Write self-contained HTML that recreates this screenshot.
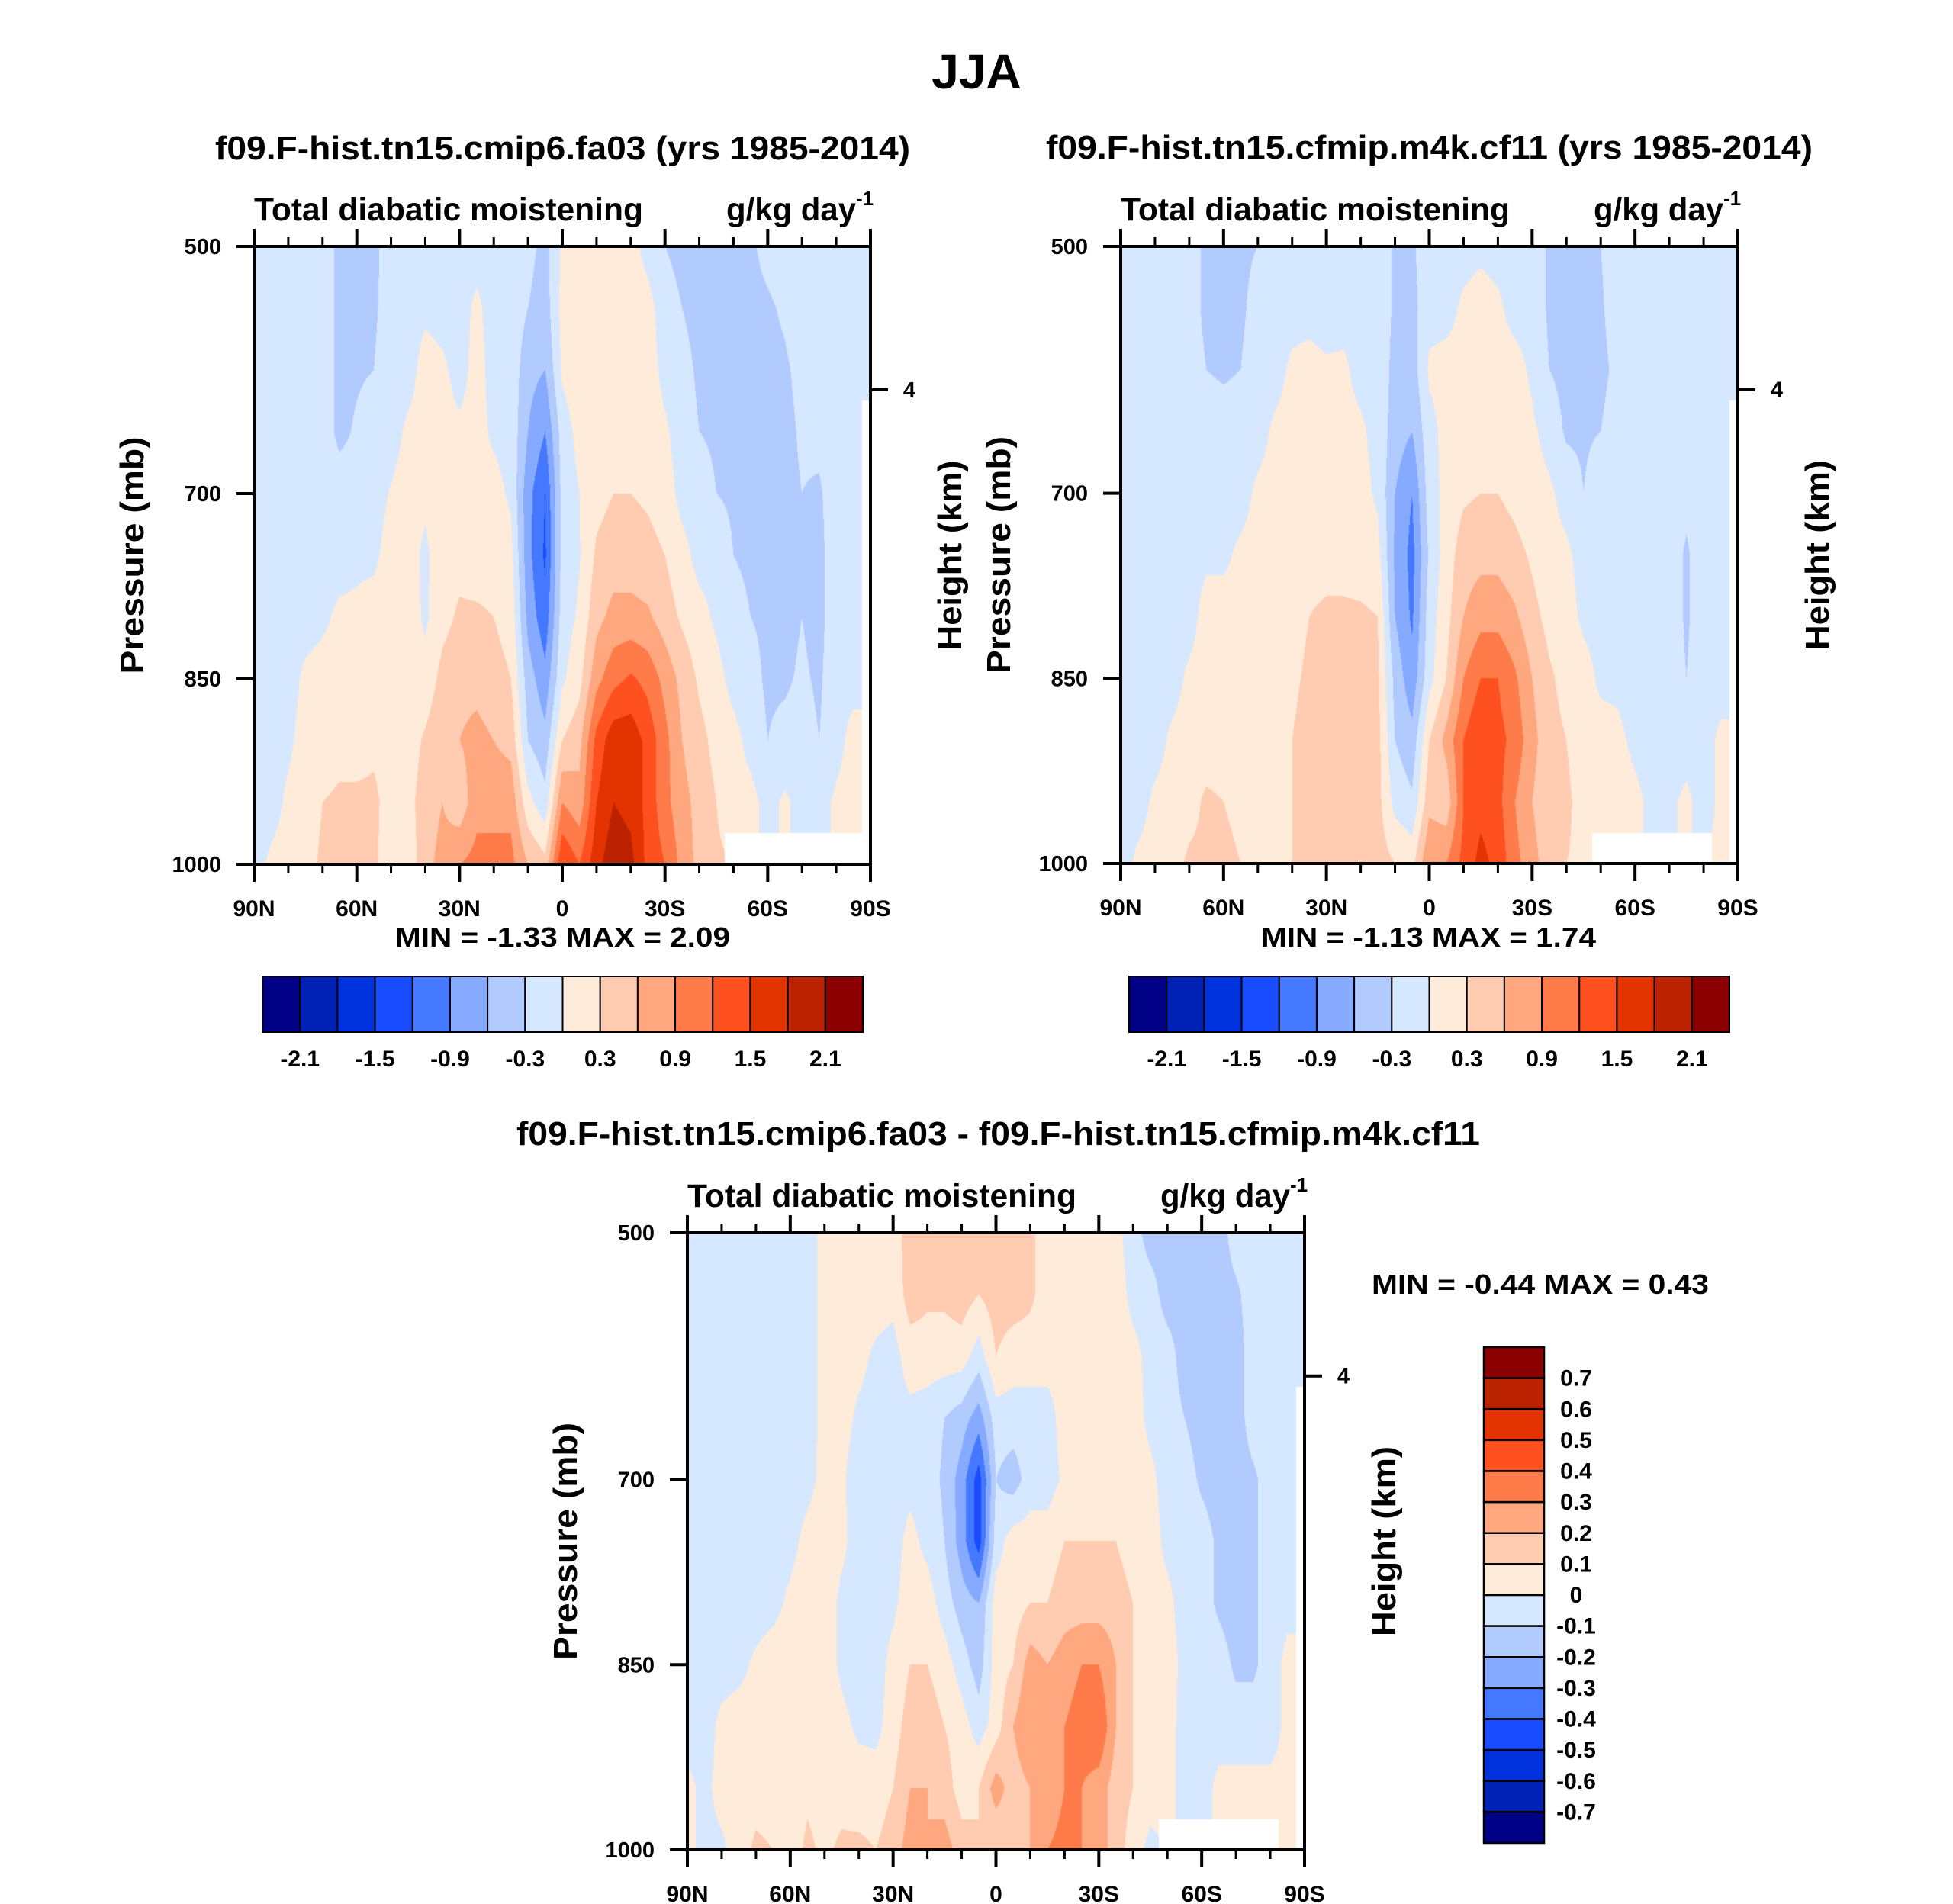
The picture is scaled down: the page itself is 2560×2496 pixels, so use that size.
<!DOCTYPE html>
<html><head><meta charset="utf-8">
<style>
html,body{margin:0;padding:0;background:#fff;}
#wrap{position:relative;width:2560px;height:2496px;overflow:hidden;background:#fff;}
canvas{position:absolute;}
svg{position:absolute;left:0;top:0;}
text{font-family:"Liberation Sans",sans-serif;font-weight:bold;fill:#000;}
</style></head>
<body>
<div id="wrap">
<canvas id="c1"></canvas>
<canvas id="c2"></canvas>
<canvas id="c3"></canvas>
<svg id="svg" width="2560" height="2496" xmlns="http://www.w3.org/2000/svg"></svg>
</div>
<script>
// ---- data ----
const lats = [90,85,80,75,70,65,60,55,50,45,40,35,30,25,20,15,10,5,0,-5,-10,-15,-20,-25,-30,-35,-40,-45,-50,-55,-60,-65,-70,-75,-80,-85,-90];
const pressures = [500,550,600,650,700,750,800,850,900,950,1000];
const N = null;
const field1 = [
[-0.1,-0.1,-0.1,-0.1,-0.1,-0.1,-0.1,-0.1,-0.1,-0.1,-0.1],
[-0.1,-0.1,-0.1,-0.1,-0.1,-0.1,-0.1,-0.1,-0.1,-0.1,0.05],
[-0.1,-0.1,-0.1,-0.1,-0.1,-0.1,-0.1,-0.1,-0.05,0.05,0.1],
[-0.1,-0.1,-0.1,-0.1,-0.1,-0.1,-0.1,0.05,0.1,0.15,0.2],
[-0.1,-0.1,-0.1,-0.1,-0.1,-0.1,-0.05,0.1,0.15,0.3,0.35],
[-0.4,-0.4,-0.4,-0.4,-0.1,-0.1,0.05,0.1,0.2,0.35,0.35],
[-0.4,-0.4,-0.35,-0.25,-0.1,-0.05,0.05,0.1,0.2,0.35,0.35],
[-0.35,-0.35,-0.3,-0.1,-0.1,-0.05,0.1,0.15,0.25,0.35,0.35],
[-0.2,-0.15,-0.1,-0.1,0.02,0.1,0.15,0.15,0.2,0.2,0.15],
[-0.1,-0.1,-0.1,0.05,0.1,0.1,0.15,0.15,0.15,0.2,0.1],
[-0.1,-0.05,0.1,0.1,0.05,-0.05,-0.05,0.1,0.35,0.45,0.5],
[-0.1,-0.1,0.05,0.1,0.15,0.15,0.2,0.4,0.55,0.6,0.7],
[-0.1,-0.1,-0.1,0.05,0.1,0.2,0.35,0.5,0.6,0.4,0.9],
[-0.1,0.05,0.1,0.1,0.1,0.15,0.35,0.5,0.7,0.8,1.0],
[-0.1,-0.1,-0.1,-0.05,0.1,0.15,0.3,0.4,0.6,0.8,1.0],
[-0.1,-0.1,-0.1,-0.1,-0.05,0.1,0.2,0.3,0.5,0.8,1.0],
[-0.2,-0.3,-0.5,-0.6,-0.8,-0.8,-0.7,-0.45,-0.3,0.1,0.6],
[-0.4,-0.45,-0.6,-0.9,-1.2,-1.25,-1.1,-0.8,-0.5,-0.2,0.4],
[0.05,0.1,0.05,-0.15,-0.2,-0.2,-0.15,-0.05,0.3,0.9,1.5],
[0.15,0.2,0.2,0.1,0.0,-0.02,0.05,0.2,0.5,0.7,1.2],
[0.15,0.2,0.2,0.2,0.2,0.35,0.5,0.8,1.3,1.5,1.7],
[0.15,0.2,0.2,0.25,0.3,0.45,0.7,1.1,1.7,1.8,2.0],
[0.1,0.15,0.2,0.25,0.3,0.45,0.7,1.25,1.7,1.7,1.9],
[-0.1,0.1,0.15,0.2,0.25,0.4,0.65,1.1,1.4,1.4,1.4],
[-0.3,-0.15,-0.1,0.05,0.15,0.3,0.45,0.8,1.0,1.0,1.2],
[-0.4,-0.3,-0.2,-0.15,-0.1,0.1,0.25,0.5,0.6,0.7,0.8],
[-0.4,-0.4,-0.35,-0.3,-0.15,-0.1,0.1,0.25,0.4,0.5,0.5],
[-0.4,-0.35,-0.35,-0.35,-0.3,-0.1,-0.05,0.1,0.2,0.3,0.35],
[-0.35,-0.35,-0.35,-0.35,-0.35,-0.3,-0.2,-0.1,0.1,0.1,N],
[-0.35,-0.4,-0.4,-0.4,-0.4,-0.35,-0.3,-0.2,-0.1,0.1,N],
[-0.2,-0.35,-0.4,-0.4,-0.4,-0.4,-0.35,-0.35,-0.3,-0.1,N],
[-0.1,-0.25,-0.35,-0.4,-0.4,-0.4,-0.4,-0.35,-0.2,0.05,N],
[-0.1,-0.1,-0.2,-0.25,-0.3,-0.3,-0.3,-0.25,-0.15,-0.1,N],
[-0.1,-0.1,-0.1,-0.2,-0.35,-0.4,-0.4,-0.35,-0.3,-0.1,N],
[-0.1,-0.1,-0.1,-0.1,-0.1,-0.1,-0.1,-0.1,-0.1,0.05,N],
[-0.1,-0.1,-0.1,-0.1,-0.1,-0.1,-0.1,-0.1,0.1,0.1,N],
[-0.1,-0.1,-0.1,N,N,N,N,N,N,N,N]
];
const field2 = [
[-0.1,-0.1,-0.1,-0.1,-0.1,-0.1,-0.1,-0.1,-0.1,-0.1,-0.1],
[-0.1,-0.1,-0.1,-0.1,-0.1,-0.1,-0.1,-0.1,-0.1,-0.1,0.05],
[-0.1,-0.1,-0.1,-0.1,-0.1,-0.1,-0.1,-0.1,-0.1,0.05,0.1],
[-0.1,-0.1,-0.1,-0.1,-0.1,-0.1,-0.1,-0.1,0.05,0.1,0.2],
[-0.1,-0.1,-0.1,-0.1,-0.1,-0.1,-0.1,0.05,0.1,0.2,0.35],
[-0.4,-0.4,-0.3,-0.1,-0.1,-0.05,0.1,0.1,0.15,0.35,0.35],
[-0.4,-0.4,-0.35,-0.15,-0.1,-0.05,0.1,0.15,0.15,0.3,0.35],
[-0.35,-0.35,-0.3,-0.1,-0.1,0.05,0.1,0.15,0.2,0.25,0.3],
[-0.3,-0.2,-0.15,-0.1,0.05,0.1,0.15,0.15,0.2,0.2,0.2],
[-0.1,-0.1,-0.1,0.05,0.1,0.15,0.15,0.2,0.2,0.15,0.1],
[-0.1,-0.1,0.05,0.1,0.15,0.15,0.2,0.25,0.3,0.3,0.3],
[-0.1,-0.1,0.1,0.15,0.15,0.2,0.3,0.35,0.4,0.4,0.35],
[-0.1,-0.15,0.05,0.1,0.15,0.2,0.35,0.45,0.5,0.4,0.4],
[-0.1,-0.1,0.05,0.1,0.15,0.2,0.35,0.5,0.6,0.45,0.5],
[-0.1,-0.1,-0.1,0.05,0.1,0.15,0.35,0.4,0.5,0.5,0.5],
[-0.1,-0.1,-0.1,-0.1,-0.05,0.1,0.3,0.35,0.4,0.4,0.45],
[-0.35,-0.35,-0.4,-0.45,-0.6,-0.65,-0.6,-0.4,-0.3,-0.1,0.3],
[-0.35,-0.4,-0.45,-0.6,-0.9,-1.0,-0.95,-0.8,-0.5,-0.25,0.2],
[-0.1,-0.1,0.05,-0.1,-0.15,-0.25,-0.15,-0.1,0.3,0.5,0.9],
[-0.1,-0.1,0.1,0.1,0.1,0.15,0.2,0.3,0.7,0.4,0.9],
[-0.1,0.05,0.1,0.15,0.25,0.45,0.6,0.9,1.2,1.2,1.3],
[-0.05,0.1,0.15,0.2,0.3,0.5,0.8,1.2,1.5,1.4,1.6],
[-0.1,0.05,0.1,0.15,0.3,0.5,0.8,1.2,1.3,1.3,1.4],
[-0.1,-0.1,0.1,0.15,0.2,0.4,0.65,0.95,1.1,0.9,1.0],
[-0.1,-0.1,-0.05,0.05,0.1,0.25,0.4,0.6,0.7,0.6,0.7],
[-0.35,-0.35,-0.3,-0.1,0.05,0.1,0.2,0.35,0.4,0.4,0.45],
[-0.4,-0.4,-0.4,-0.35,-0.1,0.05,0.1,0.2,0.3,0.35,0.3],
[-0.4,-0.4,-0.4,-0.35,-0.3,-0.1,-0.05,0.1,0.15,0.2,0.25],
[-0.3,-0.35,-0.4,-0.3,-0.1,-0.1,-0.1,-0.05,0.1,0.15,N],
[-0.1,-0.1,-0.2,-0.1,-0.1,-0.1,-0.1,-0.05,0.05,0.1,N],
[-0.1,-0.1,-0.1,-0.1,-0.1,-0.1,-0.1,-0.1,-0.05,0.05,N],
[-0.1,-0.1,-0.1,-0.1,-0.1,-0.3,-0.25,-0.1,-0.1,-0.05,N],
[-0.1,-0.1,-0.1,-0.1,-0.1,-0.1,-0.1,-0.1,-0.1,-0.05,N],
[-0.1,-0.1,-0.1,-0.1,-0.2,-0.35,-0.35,-0.3,-0.1,0.05,N],
[-0.1,-0.1,-0.1,-0.1,-0.1,-0.1,-0.1,-0.1,-0.1,-0.1,N],
[-0.1,-0.1,-0.1,-0.1,-0.1,-0.1,-0.1,-0.1,0.05,0.05,0.05],
[-0.1,-0.1,-0.1,N,N,N,N,N,N,N,N]
];
const field3 = [
[-0.05,-0.05,-0.05,-0.05,-0.05,-0.05,-0.05,-0.05,-0.05,0.03,0.03],
[-0.05,-0.05,-0.05,-0.05,-0.05,-0.05,-0.05,-0.05,-0.05,-0.03,-0.03],
[-0.05,-0.05,-0.05,-0.05,-0.05,-0.05,-0.05,-0.05,0.03,0.04,-0.02],
[-0.05,-0.05,-0.05,-0.05,-0.05,-0.05,-0.05,-0.03,0.05,0.05,0.05],
[-0.05,-0.05,-0.05,-0.05,-0.05,-0.05,-0.05,0.02,0.05,0.06,0.12],
[-0.05,-0.05,-0.05,-0.05,-0.05,-0.05,-0.03,0.05,0.05,0.05,0.1],
[-0.05,-0.05,-0.05,-0.05,-0.05,-0.03,0.02,0.05,0.05,0.05,0.05],
[-0.04,-0.04,-0.04,-0.04,-0.03,0.03,0.05,0.05,0.05,0.08,0.12],
[0.03,0.03,0.03,0.03,0.03,0.05,0.05,0.05,0.05,0.06,0.08],
[0.05,0.05,0.05,0.04,0.02,0.02,-0.02,-0.02,0.03,0.06,0.12],
[0.05,0.05,0.03,-0.02,-0.06,-0.04,-0.04,-0.06,-0.02,0.05,0.12],
[0.05,0.05,-0.02,-0.04,-0.04,-0.04,-0.04,-0.04,-0.03,0.05,0.1],
[0.05,0.03,-0.04,-0.04,-0.04,-0.04,-0.02,0.03,0.05,0.1,0.15],
[0.15,0.15,0.05,-0.03,-0.03,0.03,0.05,0.1,0.15,0.2,0.25],
[0.12,0.12,0.05,-0.05,-0.05,-0.03,0.05,0.1,0.15,0.2,0.2],
[0.1,0.12,0.05,-0.1,-0.12,-0.1,-0.05,0.05,0.1,0.15,0.25],
[0.15,0.15,0.05,-0.15,-0.25,-0.25,-0.15,-0.05,0.05,0.05,0.15],
[0.1,0.1,-0.05,-0.25,-0.45,-0.45,-0.2,-0.15,-0.05,0.1,0.1],
[0.15,0.15,0.1,-0.05,-0.1,-0.05,0.05,0.05,0.05,0.25,0.1],
[0.2,0.15,0.05,-0.05,-0.15,0.05,0.05,0.1,0.2,0.15,0.15],
[0.12,0.12,0.05,-0.05,-0.05,0.05,0.1,0.25,0.3,0.2,0.2],
[0.05,0.05,0.05,-0.05,-0.05,0.05,0.1,0.2,0.25,0.2,0.3],
[0.05,0.05,0.05,0.05,0.02,0.1,0.15,0.25,0.3,0.3,0.35],
[0.05,0.05,0.05,0.05,0.05,0.1,0.15,0.3,0.35,0.3,0.3],
[0.05,0.05,0.05,0.05,0.05,0.1,0.15,0.3,0.4,0.25,0.25],
[0.03,0.05,0.05,0.05,0.05,0.1,0.15,0.2,0.2,0.15,0.15],
[-0.05,-0.03,0.03,0.05,0.05,0.05,0.1,0.1,0.1,0.1,0.05],
[-0.15,-0.05,-0.03,-0.03,0.03,0.05,0.05,0.05,0.05,0.05,-0.03],
[-0.15,-0.15,-0.05,-0.05,-0.05,-0.03,0.03,0.05,0.05,0.05,N],
[-0.15,-0.15,-0.15,-0.1,-0.05,-0.05,-0.05,-0.03,-0.05,-0.05,N],
[-0.15,-0.15,-0.15,-0.15,-0.12,-0.05,-0.05,-0.05,-0.05,-0.05,N],
[-0.15,-0.15,-0.15,-0.15,-0.15,-0.12,-0.12,-0.05,-0.05,0.03,N],
[-0.05,-0.12,-0.15,-0.15,-0.15,-0.15,-0.15,-0.12,-0.05,0.03,N],
[-0.05,-0.05,-0.05,-0.05,-0.12,-0.12,-0.12,-0.12,-0.05,0.03,N],
[-0.05,-0.05,-0.05,-0.05,-0.05,-0.05,-0.05,-0.05,-0.05,0.03,N],
[-0.05,-0.05,-0.05,-0.05,-0.05,-0.05,-0.03,0.03,0.03,0.03,0.03],
[-0.05,-0.05,-0.05,N,N,N,N,N,N,N,N]
];
const levelsAbs = [-2.1,-1.8,-1.5,-1.2,-0.9,-0.6,-0.3,0,0.3,0.6,0.9,1.2,1.5,1.8,2.1];
const levelsDiff = [-0.7,-0.6,-0.5,-0.4,-0.3,-0.2,-0.1,0,0.1,0.2,0.3,0.4,0.5,0.6,0.7];
const fillColors = ["#000086","#0021b5","#0033de","#1a4cff","#4478ff","#86aaff","#b2cbff","#d6e8ff","#ffebd9","#ffcbb1","#ffa87f","#ff7b49","#ff5020","#e23300","#ba2200","#8a0000"];
const absTickLabels = ["-2.1","-1.5","-0.9","-0.3","0.3","0.9","1.5","2.1"];
const diffTickLabels = ["-0.7","-0.6","-0.5","-0.4","-0.3","-0.2","-0.1","0","0.1","0.2","0.3","0.4","0.5","0.6","0.7"];
const xTickLats = [90,60,30,0,-30,-60,-90];
const xTickLabels = ["90N","60N","30N","0","30S","60S","90S"];
const xMinorLats = [80,70,50,40,20,10,-10,-20,-40,-50,-70,-80];
const yTickPres = [500,700,850,1000];
const yTickLabels = ["500","700","850","1000"];
const heightTickPres = [616];
const heightTickLabels = ["4"];

// ---- layout ----
const panels = [
 {id:"c1",key:"cmip6",x:333,y:323,w:808,h:810,data:field1,levels:levelsAbs,
  title:"f09.F-hist.tn15.cmip6.fa03 (yrs 1985-2014)",tx1:282,tx2:1193,ty:209,
  mm:"MIN =  -1.33  MAX =   2.09",mx1:518,mx2:957,my:1241,cb:"h"},
 {id:"c2",key:"cfmip",x:1469,y:323,w:809,h:809,data:field2,levels:levelsAbs,
  title:"f09.F-hist.tn15.cfmip.m4k.cf11 (yrs 1985-2014)",tx1:1371,tx2:2376,ty:208,
  mm:"MIN =  -1.13  MAX =   1.74",mx1:1653,mx2:2092,my:1241,cb:"h"},
 {id:"c3",key:"difference",x:901,y:1616,w:809,h:809,data:field3,levels:levelsDiff,
  title:"f09.F-hist.tn15.cmip6.fa03 - f09.F-hist.tn15.cfmip.m4k.cf11",tx1:677,tx2:1940,ty:1501,
  mm:"MIN =  -0.44  MAX =   0.43",mx1:1798,mx2:2240,my:1696,cb:"v"}
];

function hexToRgb(h){return [parseInt(h.substr(1,2),16),parseInt(h.substr(3,2),16),parseInt(h.substr(5,2),16)];}
const rgbs = fillColors.map(hexToRgb);
function classify(v,lev){let k=0;while(k<lev.length&&v>=lev[k])k++;return k;}

function renderField(p){
  const cv=document.getElementById(p.id);
  cv.width=p.w;cv.height=p.h;cv.style.left=p.x+"px";cv.style.top=p.y+"px";
  const ctx=cv.getContext("2d");
  const img=ctx.createImageData(p.w,p.h);
  const nc=lats.length-1, nr=pressures.length-1;
  const latMax=lats[0], latMin=lats[lats.length-1];
  for(let py=0;py<p.h;py++){
    const pres=500+(py+0.5)/p.h*500;
    let r=(pres-pressures[0])/(pressures[nr]-pressures[0])*nr;
    for(let px=0;px<p.w;px++){
      const lat=latMax-(px+0.5)/p.w*(latMax-latMin);
      let c=(latMax-lat)/(latMax-latMin)*nc;
      const ci=Math.min(Math.floor(c),nc-1), ri=Math.min(Math.floor(r),nr-1);
      const fc=c-ci, fr=r-ri;
      const near=p.data[Math.round(c)][Math.round(r)];
      const o=(py*p.w+px)*4;
      if(near===null){img.data[o]=255;img.data[o+1]=255;img.data[o+2]=255;img.data[o+3]=255;continue;}
      const pts=[[ci,ri,(1-fc)*(1-fr)],[ci+1,ri,fc*(1-fr)],[ci,ri+1,(1-fc)*fr],[ci+1,ri+1,fc*fr]];
      let s=0,ws=0;
      for(const q of pts){const v=p.data[q[0]][q[1]];if(v!==null){s+=v*q[2];ws+=q[2];}}
      const v=ws>0?s/ws:near;
      const col=rgbs[classify(v,p.levels)];
      img.data[o]=col[0];img.data[o+1]=col[1];img.data[o+2]=col[2];img.data[o+3]=255;
    }
  }
  ctx.putImageData(img,0,0);
}

const svg=document.getElementById("svg");
const NS="http://www.w3.org/2000/svg";
function el(tag,attrs,parent){const e=document.createElementNS(NS,tag);for(const k in attrs)e.setAttribute(k,attrs[k]);(parent||svg).appendChild(e);return e;}
function txt(str,attrs,parent){const e=el("text",attrs,parent);e.textContent=str;return e;}

const mt=txt("JJA",{x:1280,y:116,"font-size":64,"text-anchor":"middle"});



panels.forEach(p=>{
  renderField(p);
  const g=el("g",{});
  
  
  const xs=lat=>p.x+(90-lat)/180*p.w;
  const ys=pr=>p.y+(pr-500)/500*p.h;
  const right=p.x+p.w, bottom=p.y+p.h;
  const t=txt(p.title,{x:p.tx1,y:p.ty,"font-size":44,textLength:p.tx2-p.tx1,lengthAdjust:"spacingAndGlyphs"},g);
  
  
  const st=txt("Total diabatic moistening",{x:p.x,y:p.y-34,"font-size":43,textLength:510,lengthAdjust:"spacingAndGlyphs"},g);
  
  
  const un=txt("g/kg day",{x:right-189,y:p.y-34,"font-size":43,textLength:170,lengthAdjust:"spacingAndGlyphs"},g);
  
  
  const sup=txt("-1",{x:right-19,y:p.y-54,"font-size":26},g);
  
  
  const fr=el("rect",{x:p.x,y:p.y,width:p.w,height:p.h,fill:"none",stroke:"#000","stroke-width":4},g);
  
  
  xTickLats.forEach((lat,i)=>{
    const x=xs(lat);
    const tk=el("path",{d:`M${x},${bottom}v23M${x},${p.y}v-23`,stroke:"#000","stroke-width":4},g);
    
    
    const lb=txt(xTickLabels[i],{x:x,y:bottom+68,"font-size":30,"text-anchor":"middle"},g);
    
    
  });
  xMinorLats.forEach(lat=>{
    const x=xs(lat);
    const tk=el("path",{d:`M${x},${bottom}v12M${x},${p.y}v-12`,stroke:"#000","stroke-width":3},g);
    
    
  });
  yTickPres.forEach((pr,i)=>{
    const y=ys(pr);
    const tk=el("path",{d:`M${p.x},${y}h-23`,stroke:"#000","stroke-width":4},g);
    
    
    const lb=txt(yTickLabels[i],{x:p.x-43,y:y+10,"font-size":29,"text-anchor":"end"},g);
    
    
  });
  heightTickPres.forEach((pr,i)=>{
    const y=ys(pr);
    const tk=el("path",{d:`M${right},${y}h23`,stroke:"#000","stroke-width":4},g);
    
    
    const lb=txt(heightTickLabels[i],{x:right+51,y:y+10,"font-size":29,"text-anchor":"middle"},g);
    
    
  });
  const cy=p.y+p.h/2;
  const ya=txt("Pressure (mb)",{x:0,y:0,"font-size":44,textLength:311,lengthAdjust:"spacingAndGlyphs","text-anchor":"middle",transform:`translate(${p.x-145},${cy}) rotate(-90)`},g);
  
  
  const ha=txt("Height (km)",{x:0,y:0,"font-size":44,textLength:249,lengthAdjust:"spacingAndGlyphs","text-anchor":"middle",transform:`translate(${right+119},${cy}) rotate(-90)`},g);
  
  
  const mm=txt(p.mm,{x:p.mx1,y:p.my,"font-size":36,textLength:p.mx2-p.mx1,lengthAdjust:"spacingAndGlyphs","xml:space":"preserve"},g);
  
  
  const cb=el("g",{},g);
  
  
  if(p.cb==="h"){
    const cx0=p.x+11, cw=787, cy0=1280, chh=73, bw=cw/fillColors.length;
    fillColors.forEach((c,i)=>{
      const r=el("rect",{x:cx0+i*bw,y:cy0,width:bw,height:chh,fill:c,stroke:"#000","stroke-width":2},cb);
      
      
    });
    absTickLabels.forEach((l,i)=>{
      const lb=txt(l,{x:cx0+(2*i+1)*bw,y:1398,"font-size":30,"text-anchor":"middle"},cb);
      
      
    });
  } else {
    const cx0=1945, cw=79, cy0=1766, chh=650, bh=chh/fillColors.length;
    fillColors.slice().reverse().forEach((c,i)=>{
      const r=el("rect",{x:cx0,y:cy0+i*bh,width:cw,height:bh,fill:c,stroke:"#000","stroke-width":2.5},cb);
      
      
    });
    diffTickLabels.slice().reverse().forEach((l,i)=>{
      const lb=txt(l,{x:2066,y:cy0+(i+1)*bh+10,"font-size":30,"text-anchor":"middle"},cb);
      
      
    });
  }
});
</script>
</body></html>
